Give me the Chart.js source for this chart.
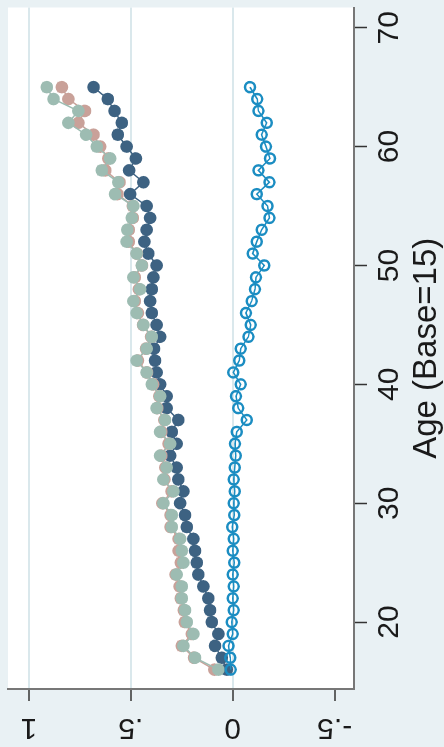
<!DOCTYPE html>
<html>
<head>
<meta charset="utf-8">
<script src="https://cdn.jsdelivr.net/npm/chart.js@4.4.1/dist/chart.umd.min.js"></script>
<style>
  html, body { margin: 0; padding: 0; background: #e9f1f4; overflow: hidden; }
  body { width: 444px; height: 747px; position: relative; }
  /* the graph is built upright and then turned a quarter turn left */
  #wrap {
    position: absolute; left: 0; top: 0;
    width: 747px; height: 444px;
    transform-origin: 0 0;
    transform: translateY(747px) rotate(-90deg);
  }
</style>
</head>
<body>
<div id="wrap"><canvas id="chart" width="747" height="444"></canvas></div>
<script>
  // --- Data (age 16..65, coefficient relative to age 15)
  var ages = [16, 17, 18, 19, 20, 21, 22, 23, 24, 25, 26, 27, 28, 29, 30, 31, 32, 33, 34, 35,
              36, 37, 38, 39, 40, 41, 42, 43, 44, 45, 46, 47, 48, 49, 50, 51, 52, 53, 54, 55,
              56, 57, 58, 59, 60, 61, 62, 63, 64, 65];

  var navyVals = [0.029, 0.054, 0.087, 0.070, 0.103, 0.111, 0.120, 0.144, 0.169, 0.176,
                  0.185, 0.193, 0.225, 0.234, 0.258, 0.242, 0.267, 0.275, 0.307, 0.275,
                  0.299, 0.267, 0.324, 0.324, 0.356, 0.373, 0.381, 0.386, 0.356, 0.373,
                  0.397, 0.405, 0.397, 0.389, 0.373, 0.414, 0.433, 0.422, 0.405, 0.422,
                  0.503, 0.438, 0.508, 0.475, 0.520, 0.564, 0.544, 0.580, 0.613, 0.683];

  var pinkVals = [0.090, 0.190, 0.250, 0.200, 0.235, 0.240, 0.255, 0.260, 0.280, 0.255,
                  0.265, 0.265, 0.305, 0.305, 0.345, 0.300, 0.335, 0.330, 0.350, 0.315,
                  0.350, 0.335, 0.370, 0.360, 0.390, 0.420, 0.465, 0.425, 0.400, 0.440,
                  0.465, 0.480, 0.460, 0.480, 0.445, 0.470, 0.510, 0.510, 0.490, 0.490,
                  0.565, 0.555, 0.625, 0.610, 0.650, 0.683, 0.757, 0.724, 0.806, 0.838];

  var sageVals = [0.070, 0.185, 0.242, 0.193, 0.225, 0.234, 0.250, 0.250, 0.275, 0.242,
                  0.250, 0.258, 0.299, 0.299, 0.340, 0.291, 0.340, 0.324, 0.356, 0.307,
                  0.356, 0.332, 0.373, 0.356, 0.397, 0.422, 0.471, 0.422, 0.397, 0.438,
                  0.471, 0.487, 0.454, 0.487, 0.446, 0.471, 0.520, 0.517, 0.495, 0.487,
                  0.577, 0.561, 0.642, 0.601, 0.667, 0.719, 0.806, 0.757, 0.879, 0.912];

  var blueVals = [0.010, 0.012, 0.020, 0.000, 0.005, -0.005, 0.000, -0.005, 0.000, -0.008,
                  0.000, -0.005, 0.002, -0.008, -0.005, -0.010, -0.005, -0.010, -0.015, -0.011,
                  -0.020, -0.069, -0.027, -0.016, -0.039, -0.003, -0.032, -0.039, -0.077, -0.088,
                  -0.065, -0.093, -0.109, -0.114, -0.155, -0.098, -0.118, -0.142, -0.180, -0.171,
                  -0.118, -0.180, -0.126, -0.183, -0.163, -0.142, -0.167, -0.126, -0.120, -0.085];

  var ageTicks = [20, 30, 40, 50, 60, 70];
  var valTicks = [-0.5, 0, 0.5, 1];
  var valLabels = ["-.5", "0", ".5", "1"];

  var FONT = "'Liberation Sans', Arial, Helvetica, sans-serif";

  function pts(vals) {
    return ages.map(function (a, i) { return { x: a, y: vals[i] }; });
  }

  function filledSeries(label, vals, color, order) {
    return {
      label: label,
      data: pts(vals),
      showLine: true,
      borderColor: color,
      borderWidth: 1.5,
      pointRadius: 6.3,
      pointBackgroundColor: color,
      pointBorderColor: color,
      pointBorderWidth: 0,
      order: order,
    };
  }

  // --- white plot region
  var plotBg = {
    id: "plotBg",
    beforeDraw: function (chart) {
      var a = chart.chartArea, ctx = chart.ctx;
      ctx.save();
      ctx.fillStyle = "#ffffff";
      ctx.fillRect(a.left, a.top, a.right - a.left, a.bottom - a.top);
      ctx.restore();
    },
  };

  // --- vertical y tick labels (Stata style)
  var yLabels = {
    id: "yLabels",
    afterDraw: function (chart) {
      var s = chart.scales.y, ctx = chart.ctx;
      ctx.save();
      ctx.fillStyle = "#1a1a1a";
      ctx.font = "30px " + FONT;
      ctx.textAlign = "center";
      ctx.textBaseline = "middle";
      valTicks.forEach(function (v, i) {
        var py = s.getPixelForValue(v);
        ctx.save();
        ctx.translate(20, py);
        ctx.rotate(-Math.PI / 2);
        ctx.fillText(valLabels[i], 0, 0);
        ctx.restore();
      });
      ctx.restore();
    },
  };

  new Chart(document.getElementById("chart"), {
    type: "scatter",
    data: {
      datasets: [
        {
          label: "blue",
          data: pts(blueVals),
          showLine: true,
          borderColor: "#1b8dc2",
          borderWidth: 1.5,
          pointRadius: 5,
          pointBackgroundColor: "rgba(0,0,0,0)",
          pointBorderColor: "#1b8dc2",
          pointBorderWidth: 2.5,
          order: 0,
        },
        filledSeries("sage", sageVals, "#9dbcb2", 1),
        filledSeries("pink", pinkVals, "#c9a199", 2),
        filledSeries("navy", navyVals, "#3d6282", 3),
      ],
    },
    plugins: [plotBg, yLabels],
    options: {
      responsive: false,
      animation: false,
      layout: { padding: { top: 8, right: 7, left: 0, bottom: 0 } },
      plugins: {
        legend: { display: false },
        tooltip: { enabled: false },
      },
      scales: {
        x: {
          type: "linear",
          position: "bottom",
          min: 14.37,
          max: 71.7,
          afterBuildTicks: function (s) {
            s.ticks = ageTicks.map(function (v) { return { value: v }; });
          },
          afterFit: function (s) { s.height = 90; },
          grid: {
            drawOnChartArea: false,
            drawTicks: true,
            tickLength: 13,
            tickColor: "#333",
            tickWidth: 1.5,
          },
          border: { display: true, color: "#777", width: 2 },
          ticks: {
            color: "#1a1a1a",
            font: { family: FONT, size: 30 },
            padding: 5,
            maxRotation: 0,
            callback: function (v) { return String(v); },
          },
          title: {
            display: true,
            text: "Age (Base=15)",
            color: "#1a1a1a",
            font: { family: FONT, size: 33, lineHeight: 1 },
            padding: { top: 0, bottom: 1 },
          },
        },
        y: {
          type: "linear",
          position: "left",
          min: -0.595,
          max: 1.102,
          afterBuildTicks: function (s) {
            s.ticks = valTicks.map(function (v) { return { value: v }; });
          },
          afterFit: function (s) { s.width = 58; },
          grid: {
            color: function (c) {
              return c.tick && c.tick.value === -0.5 ? "rgba(0,0,0,0)" : "#dae8ec";
            },
            lineWidth: 2,
            drawTicks: true,
            tickLength: 12,
            tickColor: "#333",
            tickWidth: 1.5,
          },
          border: { display: true, color: "#777", width: 2 },
          ticks: { display: false },
        },
      },
    },
  });
</script>
</body>
</html>
